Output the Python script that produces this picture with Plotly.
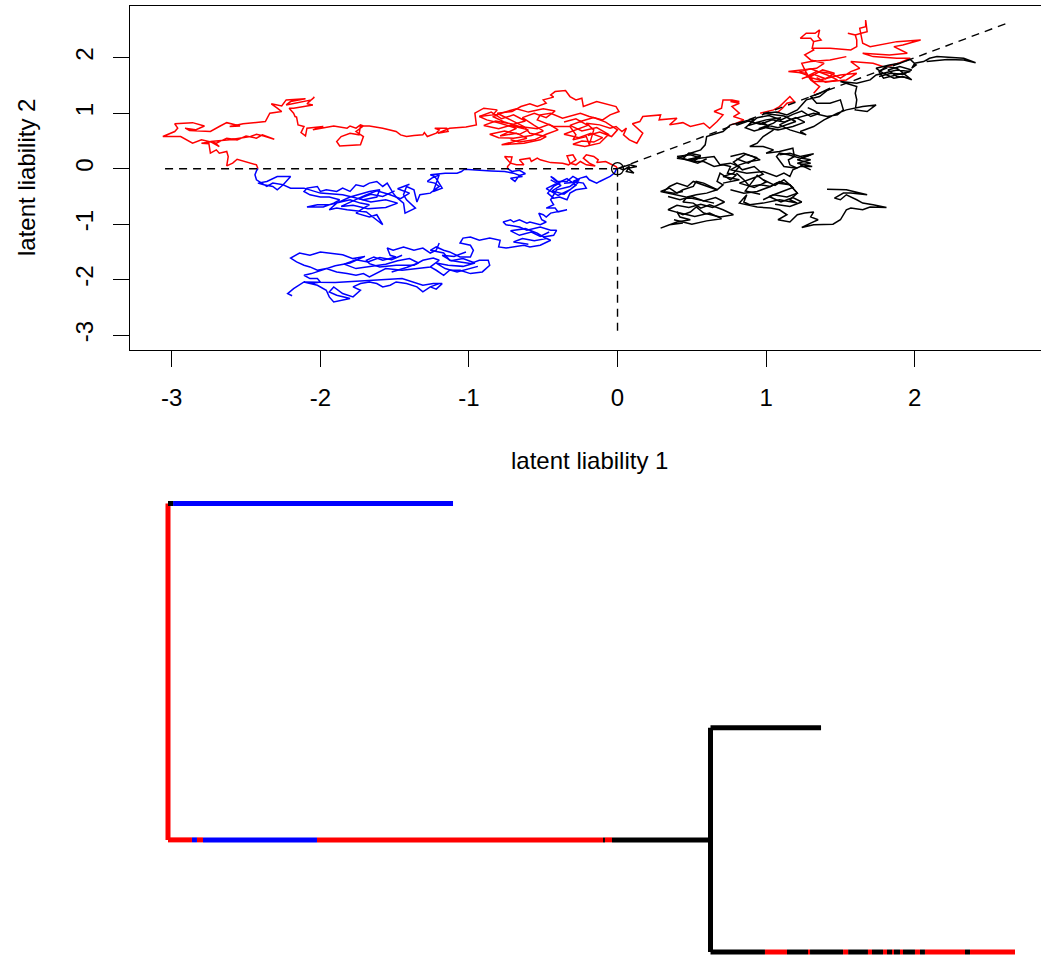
import plotly.graph_objects as go

# ---------------- top panel: liability walks (data units) ----------------
red_path_1 = [(0.00,0.00),(-0.01,0.04),(-0.05,0.09),(-0.08,0.13),(-0.14,0.11),(-0.13,0.16),(-0.16,0.22),(-0.21,0.25),
    (-0.23,0.19),(-0.19,0.10),(-0.15,0.05),(-0.21,0.07),(-0.25,0.13),(-0.28,0.07),(-0.32,0.10),(-0.34,0.23),(-0.30,0.25),
    (-0.28,0.16),(-0.33,0.07),(-0.37,0.10),(-0.45,0.11),(-0.52,0.16),(-0.54,0.19),(-0.58,0.13),(-0.59,0.19),(-0.66,0.16),
    (-0.63,0.07),(-0.68,0.07),(-0.72,0.10),(-0.75,0.19),(-0.76,0.22),(-0.71,0.21),(-0.72,0.10),(-0.74,0.04),(-0.74,0.00)]

red_path_2 = [(-2.42,0.00),(-2.43,0.07),(-2.56,0.17),(-2.59,0.10),(-2.63,0.05),(-2.62,0.22),(-2.63,0.31),(-2.68,0.28),
    (-2.70,0.34),(-2.74,0.28),(-2.75,0.45),(-2.80,0.46),(-2.72,0.49),(-2.68,0.40),(-2.74,0.49),(-2.61,0.52),(-2.47,0.58),
    (-2.43,0.62),(-2.38,0.59),(-2.31,0.53),(-2.39,0.61),(-2.43,0.55),(-2.50,0.59),(-2.56,0.52),(-2.63,0.55),(-2.70,0.46),
    (-2.80,0.52),(-2.86,0.46),(-2.94,0.58),(-3.06,0.58),(-3.01,0.64),(-2.98,0.67),(-2.96,0.73),(-2.98,0.81),(-2.86,0.83),
    (-2.78,0.77),(-2.84,0.70),(-2.91,0.73),(-2.88,0.69),(-2.74,0.67),(-2.68,0.76),(-2.63,0.83),(-2.54,0.77),(-2.61,0.76),
    (-2.52,0.81),(-2.37,0.85),(-2.34,1.00),(-2.26,1.03),(-2.29,1.09),(-2.33,1.17),(-2.26,1.13),(-2.23,1.24),(-2.10,1.26),
    (-2.20,1.21),(-2.23,1.15),(-2.06,1.24),(-2.04,1.29),(-2.07,1.21),(-2.09,1.17),(-2.05,1.15),(-2.09,1.13),(-2.18,1.09),
    (-2.21,1.09),(-2.18,1.00),(-2.17,0.94),(-2.16,0.93),(-2.15,0.79),(-2.11,0.76),(-2.13,0.65),(-2.10,0.59),(-2.09,0.73),
    (-1.98,0.76),(-2.02,0.73),(-2.05,0.70),(-1.91,0.77),(-1.82,0.73),(-1.80,0.77),(-1.76,0.73),(-1.73,0.79),(-1.71,0.77),
    (-1.76,0.67),(-1.71,0.58),(-1.73,0.43),(-1.87,0.41),(-1.89,0.49),(-1.86,0.58),(-1.80,0.64),(-1.74,0.61),(-1.73,0.77),
    (-1.67,0.77),(-1.58,0.73),(-1.49,0.67),(-1.46,0.61),(-1.42,0.58),(-1.37,0.60),(-1.31,0.61),(-1.30,0.65),(-1.28,0.58),
    (-1.22,0.64),(-1.20,0.70),(-1.23,0.73),(-1.15,0.73),(-1.14,0.67),(-1.21,0.64),(-1.13,0.73),(-1.02,0.75),(-0.95,0.79),
    (-0.96,1.00),(-0.90,1.09),(-0.81,1.06),(-0.84,0.97),(-0.93,0.94),(-0.88,0.88),(-0.79,0.82),(-0.68,0.73),(-0.75,0.64),
    (-0.79,0.59),(-0.68,0.64),(-0.61,0.55),(-0.78,0.43),(-0.63,0.46),(-0.52,0.52),(-0.48,0.58),(-0.59,0.64),(-0.63,0.76),
    (-0.72,0.88),(-0.81,1.00),(-0.71,1.03),(-0.65,1.12),(-0.59,1.17),(-0.54,1.12),(-0.48,1.18),(-0.50,1.24),(-0.43,1.29),
    (-0.45,1.33),(-0.42,1.39),(-0.35,1.41),(-0.32,1.30),(-0.28,1.24),(-0.24,1.27),(-0.23,1.12),(-0.14,1.21),(-0.01,1.12),
    (0.01,1.03),(-0.05,0.97),(-0.10,0.88),(-0.19,0.94),(-0.25,1.00),(-0.37,0.91),(-0.45,1.00),(-0.52,0.97),(-0.54,0.88),
    (-0.43,0.76),(-0.32,0.76),(-0.28,0.61),(-0.30,0.52),(-0.21,0.58),(-0.19,0.43),(-0.16,0.70),(-0.21,0.82),(-0.12,0.79),
    (-0.05,0.73),(-0.01,0.76),(0.03,0.67),(0.06,0.73),(0.04,0.61),(0.08,0.52),(0.13,0.46),(0.17,0.64),(0.10,0.81),
    (0.15,0.85),(0.17,0.94),(0.29,0.97),(0.28,0.88),(0.40,0.91),(0.35,0.79),(0.44,0.83),(0.49,0.76),(0.58,0.82),
    (0.62,0.73),(0.67,0.85),(0.71,0.97),(0.65,1.03),(0.70,1.09),(0.71,1.24),(0.77,1.24),(0.82,1.21),(0.76,1.21),
    (0.82,1.18),(0.77,1.12),(0.82,1.00),(0.78,0.94),(0.85,0.88),(0.80,0.82),(0.76,0.79)]

red_path_3 = [(0.96,1.00),(1.05,1.06),(1.09,1.12),(1.16,1.30),(1.19,1.21),(1.14,1.18),(1.11,1.09),(1.07,1.00)]

red_path_4 = [(1.32,1.36),(1.36,1.48),(1.30,1.60),(1.27,1.72),(1.15,1.75),(1.27,1.78),(1.34,1.81),(1.39,1.90),
    (1.30,1.96),(1.26,2.05),(1.32,2.14),(1.31,2.17),(1.32,2.29),(1.37,2.32),(1.35,2.38),(1.36,2.50),(1.33,2.44),
    (1.27,2.44),(1.23,2.35),(1.30,2.35),(1.32,2.29),(1.31,2.17),(1.43,2.17),(1.57,2.14),(1.61,2.20),(1.61,2.32),
    (1.60,2.41),(1.55,2.44),(1.60,2.41),(1.64,2.44),(1.68,2.47),(1.67,2.68),(1.67,2.56),(1.63,2.53),(1.65,2.26),
    (1.70,2.20),(1.88,2.29),(2.04,2.32),(1.92,2.23),(1.86,2.20),(1.90,2.14),(1.95,2.08),(1.83,2.05),(1.65,2.08),
    (1.72,2.02),(1.88,1.99),(1.97,1.99),(1.90,1.91),(1.80,1.83),(1.72,1.90),(1.57,1.93),(1.63,1.81),(1.57,1.75),
    (1.50,1.63),(1.43,1.72),(1.34,1.75),(1.27,1.66),(1.36,1.60),(1.50,1.69),(1.61,1.72),(1.54,1.60),(1.43,1.57),
    (1.32,1.57),(1.28,1.69),(1.26,1.78),(1.24,1.90),(1.30,1.93),(1.43,1.96),(1.54,2.02)]

red_path_5 = [(-0.93,0.94),(-0.85,1.02),(-0.78,0.90),(-0.70,0.97),(-0.62,0.86),(-0.70,0.80),(-0.82,0.86),(-0.90,0.78),
    (-0.80,0.72),(-0.72,0.78),(-0.60,0.70),(-0.66,0.62),(-0.76,0.68),(-0.86,0.62),(-0.80,0.56),(-0.70,0.55),(-0.58,0.60),
    (-0.50,0.68),(-0.56,0.78),(-0.64,0.92),(-0.56,1.00),(-0.48,0.92),(-0.42,1.04),(-0.50,1.08),(-0.60,1.02),(-0.68,1.08),
    (-0.76,1.02),(-0.84,0.94),(-0.76,0.84),(-0.66,0.76),(-0.54,0.72),(-0.46,0.80),(-0.40,0.70),(-0.48,0.62),(-0.56,0.52),
    (-0.66,0.48),(-0.72,0.52)]

red_path_6 = [(-0.36,0.84),(-0.28,0.90),(-0.20,0.78),(-0.28,0.70),(-0.36,0.62),(-0.26,0.56),(-0.18,0.64),(-0.10,0.56),
    (-0.16,0.48),(-0.24,0.50),(-0.30,0.44),(-0.22,0.40),(-0.12,0.46),(-0.06,0.62),(-0.14,0.74),(-0.24,0.68),(-0.32,0.78),
    (-0.24,0.86),(-0.16,0.92),(-0.08,0.84),(0.00,0.70),(-0.04,0.58),(-0.12,0.66),(-0.20,0.60)]

red_path_7 = [(1.24,1.62),(1.32,1.70),(1.40,1.62),(1.46,1.72),(1.38,1.78),(1.30,1.66),(1.22,1.74),(1.30,1.80),
    (1.42,1.68),(1.48,1.60),(1.40,1.56),(1.34,1.64)]

blue_path_1 = [(-0.74,0.00),(-0.71,-0.05),(-0.66,-0.03),(-0.62,-0.09),(-0.66,-0.12),(-0.69,-0.23),(-0.72,-0.17),
    (-0.64,-0.14),(-0.70,-0.08),(-0.76,-0.05),(-0.85,-0.04),(-0.95,-0.03),(-1.03,-0.01),(-1.05,-0.05),(-1.08,-0.08),
    (-1.16,-0.08),(-1.26,-0.11),(-1.23,-0.14),(-1.18,-0.35),(-1.24,-0.41),(-1.20,-0.11),(-1.25,-0.17),(-1.28,-0.23),
    (-1.23,-0.26),(-1.20,-0.32),(-1.26,-0.44),(-1.33,-0.47),(-1.35,-0.60),(-1.37,-0.38),(-1.42,-0.32),(-1.44,-0.47),
    (-1.42,-0.56),(-1.36,-0.71),(-1.43,-0.80),(-1.44,-0.62),(-1.49,-0.51),(-1.51,-0.44),(-1.55,-0.26),(-1.58,-0.32),
    (-1.62,-0.23),(-1.67,-0.26),(-1.71,-0.32),(-1.76,-0.29),(-1.80,-0.41),(-1.85,-0.35),(-1.89,-0.41),(-1.96,-0.38),
    (-2.00,-0.41),(-2.02,-0.32),(-2.09,-0.35),(-2.11,-0.41),(-2.07,-0.47),(-2.00,-0.51),(-1.94,-0.51),(-1.87,-0.56),
    (-1.91,-0.62),(-1.98,-0.69),(-2.09,-0.69),(-2.02,-0.65),(-1.94,-0.65),(-1.85,-0.60),(-1.80,-0.56),(-1.73,-0.62),
    (-1.67,-0.65),(-1.71,-0.71),(-1.76,-0.80),(-1.67,-0.87),(-1.62,-0.83),(-1.58,-1.01),(-1.62,-0.92),(-1.69,-0.78),
    (-1.82,-0.74),(-1.89,-0.71),(-1.94,-0.74),(-1.89,-0.62),(-1.80,-0.51),(-1.71,-0.44),(-1.67,-0.41),(-1.60,-0.38),
    (-1.62,-0.51),(-1.71,-0.56),(-1.85,-0.47),(-2.00,-0.44),(-2.11,-0.35),(-2.20,-0.35),(-2.25,-0.29),(-2.29,-0.38),
    (-2.32,-0.32),(-2.38,-0.29),(-2.42,-0.26),(-2.36,-0.23),(-2.29,-0.14),(-2.20,-0.14),(-2.23,-0.23),(-2.25,-0.29),
    (-2.32,-0.26),(-2.36,-0.32),(-2.43,-0.20),(-2.44,-0.11),(-2.43,-0.04),(-2.42,0.00)]

blue_path_2 = [(0.00,0.00),(-0.01,-0.02),(-0.02,-0.08),(-0.05,-0.14),(-0.12,-0.23),(-0.14,-0.26),(-0.19,-0.20),
    (-0.21,-0.14),(-0.25,-0.17),(-0.30,-0.23),(-0.23,-0.26),(-0.21,-0.35),(-0.28,-0.38),(-0.32,-0.44),(-0.34,-0.56),
    (-0.39,-0.51),(-0.43,-0.53),(-0.47,-0.44),(-0.43,-0.32),(-0.39,-0.26),(-0.43,-0.17),(-0.45,-0.14),(-0.41,-0.23),
    (-0.34,-0.23),(-0.30,-0.14),(-0.26,-0.20),(-0.32,-0.32),(-0.37,-0.35),(-0.41,-0.38),(-0.45,-0.56),(-0.43,-0.65),
    (-0.48,-0.71),(-0.42,-0.71),(-0.40,-0.78),(-0.34,-0.74),(-0.41,-0.78),(-0.45,-0.80),(-0.48,-0.87),(-0.50,-0.83),
    (-0.53,-0.80),(-0.51,-0.92),(-0.48,-0.96),(-0.52,-1.01),(-0.59,-0.96),(-0.61,-0.98),(-0.66,-0.92),(-0.70,-0.96),
    (-0.72,-0.92),(-0.77,-0.96),(-0.75,-1.01),(-0.66,-1.05),(-0.61,-1.11),(-0.52,-1.05),(-0.45,-1.11),(-0.41,-1.11),
    (-0.43,-1.20),(-0.50,-1.23),(-0.45,-1.29),(-0.52,-1.38),(-0.59,-1.41),(-0.63,-1.38),(-0.75,-1.43),(-0.80,-1.41),
    (-0.79,-1.29),(-0.86,-1.25),(-0.93,-1.29),(-0.99,-1.23),(-1.04,-1.25),(-1.06,-1.34),(-0.99,-1.38),(-0.97,-1.47),
    (-0.99,-1.59),(-1.06,-1.59),(-1.13,-1.50),(-1.17,-1.47),(-1.22,-1.41),(-1.26,-1.47),(-1.17,-1.52),(-1.13,-1.65),
    (-1.06,-1.68),(-0.99,-1.71),(-0.93,-1.65),(-0.87,-1.65),(-0.86,-1.74),(-0.91,-1.86),(-0.99,-1.89),(-1.06,-1.83),
    (-1.13,-1.83),(-1.17,-1.92),(-1.22,-1.83),(-1.26,-1.77)]

blue_path_2b = [(-1.20,-1.34),(-1.22,-1.47),(-1.26,-1.52),(-1.31,-1.43),
    (-1.37,-1.47),(-1.44,-1.41),(-1.51,-1.47),(-1.55,-1.43),(-1.53,-1.56),(-1.49,-1.59),(-1.58,-1.65),(-1.64,-1.59),
    (-1.69,-1.65),(-1.67,-1.71),(-1.60,-1.77),(-1.49,-1.74),(-1.37,-1.74),(-1.31,-1.65),(-1.24,-1.61),(-1.20,-1.65),
    (-1.26,-1.77),(-1.35,-1.80),(-1.45,-1.83),(-1.56,-1.80),(-1.67,-1.95),(-1.71,-1.89),(-1.76,-1.92),(-1.82,-1.89),
    (-1.89,-1.86),(-1.96,-1.80),(-2.02,-1.83),(-2.07,-1.77),(-2.11,-1.74),(-2.16,-1.68),(-2.20,-1.61),(-2.14,-1.52),
    (-2.07,-1.56),(-2.00,-1.50),(-1.94,-1.52),(-1.85,-1.55),(-1.78,-1.62),(-1.70,-1.58),(-1.80,-1.70),(-1.90,-1.75),
    (-2.06,-1.89),(-2.11,-1.92),(-2.07,-1.98),(-2.02,-1.98),(-2.00,-2.04),(-2.06,-2.07),(-2.11,-2.04),(-2.02,-2.10),
    (-1.96,-2.19),(-1.94,-2.31),(-1.91,-2.40),(-1.85,-2.37),(-1.80,-2.34),(-1.89,-2.28),(-1.94,-2.22),(-1.91,-2.13),
    (-1.85,-2.25),(-1.78,-2.31),(-1.73,-2.19),(-1.78,-2.13),(-1.73,-2.07),(-1.67,-2.04),(-1.62,-2.07),(-1.58,-2.13),
    (-1.53,-2.10),(-1.49,-2.04),(-1.42,-2.07),(-1.35,-2.13),(-1.31,-2.22),(-1.26,-2.13),(-1.20,-2.07),(-1.26,-2.13),
    (-1.22,-2.17),(-1.18,-2.07),(-1.24,-2.07),(-1.31,-2.10),(-1.45,-1.98),(-1.60,-2.00),(-1.75,-2.03),(-1.90,-2.05),
    (-2.11,-2.04),(-2.18,-2.16),(-2.22,-2.25),(-2.19,-2.29)]

blue_path_3 = [(-0.45,-0.20),(-0.38,-0.30),(-0.44,-0.40),(-0.36,-0.46),(-0.28,-0.30),(-0.34,-0.18),(-0.42,-0.28),
    (-0.48,-0.36),(-0.40,-0.48),(-0.32,-0.38),(-0.26,-0.24),(-0.36,-0.26)]

blue_path_4 = [(-1.50,-0.40),(-1.58,-0.50),(-1.66,-0.46),(-1.74,-0.54),(-1.66,-0.60),(-1.56,-0.56),(-1.48,-0.62),
    (-1.56,-0.70),(-1.68,-0.72),(-1.78,-0.66),(-1.86,-0.68),(-1.78,-0.58),(-1.70,-0.48),(-1.62,-0.40),(-1.54,-0.46),
    (-1.46,-0.54),(-1.40,-0.44),(-1.48,-0.36),(-1.40,-0.28)]

blue_path_5 = [(-0.46,-1.14),(-0.52,-1.22),(-0.58,-1.14),(-0.66,-1.20),(-0.72,-1.12),(-0.62,-1.08),(-0.54,-1.16),
    (-0.48,-1.26),(-0.56,-1.30),(-0.64,-1.26),(-0.70,-1.32),(-0.60,-1.36)]

blue_path_6 = [(-1.02,-1.50),(-1.10,-1.58),(-1.18,-1.56),(-1.12,-1.66),(-1.04,-1.62),(-0.96,-1.70),(-1.04,-1.76),
    (-1.14,-1.74),(-1.22,-1.70),(-1.16,-1.80),(-1.08,-1.86),(-1.00,-1.80),(-0.94,-1.76)]

blue_path_7 = [(-1.45,-1.56),(-1.52,-1.64),(-1.60,-1.60),(-1.68,-1.68),(-1.76,-1.64),(-1.84,-1.72),(-1.76,-1.80),
    (-1.66,-1.76),(-1.56,-1.72),(-1.48,-1.66),(-1.40,-1.62),(-1.34,-1.70),(-1.42,-1.78),(-1.52,-1.86)]

black_path_1 = [(0.01,0.01),(0.04,-0.02),(0.08,0.04),(0.06,-0.05),(0.11,-0.08),(0.07,0.01),(0.13,0.04),(0.08,0.07),(0.02,0.02)]

black_path_2 = [(0.76,0.79),(0.71,0.67),(0.67,0.64),(0.60,0.58),(0.59,0.43),(0.56,0.34),(0.49,0.28),(0.44,0.22),
    (0.40,0.19),(0.47,0.16),(0.56,0.22),(0.51,0.13),(0.58,0.13),(0.65,0.04),(0.71,0.07),(0.76,0.04),(0.74,-0.08),
    (0.80,-0.11),(0.76,-0.20),(0.69,-0.08),(0.67,-0.23),(0.71,-0.29),(0.67,-0.38),(0.58,-0.29),(0.51,-0.23),
    (0.47,-0.32),(0.40,-0.26),(0.35,-0.32),(0.31,-0.41),(0.38,-0.44),(0.44,-0.41)]

black_path_2b = [(0.40,0.22),(0.49,0.25),(0.56,0.19),(0.47,0.16),(0.65,0.22),(0.69,0.07),(0.76,0.10),(0.82,0.04),
    (0.78,-0.08),(0.71,-0.14),(0.82,-0.20),(0.71,-0.26)]

black_path_2c = [(0.65,-0.62),(0.29,-0.41),(0.35,-0.35),(0.40,-0.44),(0.44,-0.38),(0.51,-0.32),(0.53,-0.23),
    (0.58,-0.26),(0.67,-0.38),(0.60,-0.44),(0.53,-0.47),(0.47,-0.51),(0.44,-0.60),(0.51,-0.62),(0.56,-0.71),
    (0.62,-0.65),(0.71,-0.74),(0.78,-0.83),(0.69,-0.87),(0.58,-0.80),(0.53,-0.69),(0.49,-0.78),(0.44,-0.83),
    (0.40,-0.78),(0.42,-0.87),(0.49,-0.92),(0.40,-0.96),(0.29,-1.07),(0.35,-1.01),(0.44,-0.98)]

black_path_2d = [(0.76,-0.38),(0.85,-0.44),(0.94,-0.41),(1.03,-0.32),(1.07,-0.26),(1.16,-0.29),(1.21,-0.44),(1.16,-0.56),
    (1.21,-0.62),(1.09,-0.56),(0.98,-0.62),(0.89,-0.65),(0.85,-0.60),(0.87,-0.47),(0.82,-0.62),(0.94,-0.69),
    (1.03,-0.71),(1.09,-0.74),(1.14,-0.83),(1.08,-0.92),(1.16,-0.96),(1.21,-0.83),(1.26,-0.80),(1.32,-0.78),
    (1.30,-0.87),(1.35,-0.92),(1.30,-0.98),(1.24,-1.06),(1.32,-1.01),(1.45,-1.00),(1.50,-0.92),(1.54,-0.74),
    (1.57,-0.71),(1.65,-0.74),(1.70,-0.69),(1.81,-0.70),(1.72,-0.65),(1.65,-0.62),(1.61,-0.56),(1.54,-0.47),
    (1.50,-0.56),(1.46,-0.53),(1.52,-0.44),(1.57,-0.44),(1.68,-0.47),(1.54,-0.38),(1.41,-0.37)]

black_path_3 = [(0.76,0.22),(0.85,0.28),(0.91,0.22),(0.96,0.16),(0.89,0.13),(0.82,0.07),(0.76,-0.02),(0.87,-0.08),
    (0.98,-0.05),(1.07,-0.14),(1.12,-0.08),(1.16,-0.14),(1.18,-0.02),(1.23,0.04),(1.31,0.04),(1.21,0.10),(1.30,0.16),
    (1.24,0.19),(1.32,0.27),(1.23,0.22),(1.16,0.28),(1.09,0.25)]

black_path_3b = [(1.05,0.70),(0.98,0.58),(0.94,0.46),(0.89,0.40),
    (0.98,0.40),(1.05,0.34),(1.00,0.28),(1.09,0.31),(1.18,0.37),(1.19,0.22),(1.15,0.16),(1.16,0.07),(1.21,0.01),
    (1.12,0.04),(1.07,0.22),(1.09,0.28),(1.15,0.25),(1.23,0.19),(1.30,0.25),(1.21,0.16),(1.30,0.10),(1.23,0.07),
    (1.30,-0.02)]

black_path_3c = [(0.80,-0.08),(0.85,-0.20),(0.89,-0.32),(0.96,-0.29),(1.03,-0.32),(1.09,-0.23),(1.16,-0.29),
    (1.21,-0.44),(1.14,-0.51),(1.05,-0.47),(0.98,-0.56)]

black_path_4 = [(0.76,0.79),(0.85,0.85),(0.92,0.90),(0.88,0.78),(0.97,0.85),(1.02,0.76),(0.95,0.72),(1.05,0.82),
    (1.10,0.92),(1.00,0.88),(0.93,0.83),(1.08,0.74),(1.15,0.80),(1.20,0.85),(1.12,0.95),(0.98,1.00),(1.07,1.02),
    (1.14,0.97),(1.21,1.06),(1.27,1.24),(1.36,1.30),(1.43,1.45),(1.36,1.36),(1.30,1.30),(1.34,1.18),(1.43,1.18),
    (1.50,1.24),(1.52,1.06),(1.48,0.97),(1.41,0.94),(1.32,1.00),(1.23,0.94),(1.16,0.88),(1.09,0.79),(1.16,0.70),
    (1.27,0.61),(1.23,0.67),(1.32,0.76),(1.39,0.88),(1.48,1.00),(1.54,1.06),(1.65,1.12),(1.74,1.15),(1.68,1.03),
    (1.60,1.06),(1.61,1.24),(1.60,1.36),(1.61,1.48),(1.54,1.54),(1.50,1.57),(1.61,1.54),(1.70,1.60),(1.74,1.69),
    (1.83,1.75),(1.88,1.78),(1.97,1.75),(1.88,1.69),(1.79,1.63),(1.76,1.75),(1.81,1.84),(1.88,1.81),(1.98,1.60),
    (1.92,1.66),(1.86,1.63),(1.79,1.72),(1.74,1.81),(1.83,1.87),(1.90,1.90),(1.97,1.97),(2.01,1.87),(1.98,1.81),
    (2.00,1.90),(2.06,1.93),(2.10,1.99),(2.15,2.02),(2.22,2.01),(2.33,1.99),(2.41,1.91),(2.33,1.96),(2.22,1.97),
    (2.13,1.94),(2.08,1.93)]

black_path_5 = [(0.80,0.78),(0.88,0.86),(0.96,0.80),(1.04,0.88),(1.12,0.84),(1.20,0.92),(1.26,0.84),(1.18,0.76),
    (1.08,0.70),(1.00,0.74),(0.92,0.68),(0.86,0.74),(0.94,0.92),(1.02,0.96),(1.10,0.88),(1.18,0.98),(1.24,1.04),
    (1.30,0.94),(1.36,1.00),(1.28,1.10)]

black_path_6 = [(0.80,0.18),(0.88,0.10),(0.94,0.20),(0.86,0.26),(0.78,0.12),(0.84,-0.02),(0.92,0.04),(0.98,-0.10),
    (0.90,-0.18),(0.82,-0.26),(0.92,-0.34),(1.00,-0.24),(0.94,-0.12),(0.86,-0.40),(0.96,-0.46)]

black_path_7 = [(1.76,1.66),(1.84,1.72),(1.92,1.70),(1.98,1.78),(1.90,1.84),(1.82,1.78),(1.88,1.66),(1.96,1.64)]

black_path_8 = [(0.42,0.20),(0.50,0.14),(0.56,0.24),(0.48,0.28),(0.44,0.18),(0.54,0.10),(0.60,0.18)]

black_path_9 = [(0.34,-0.50),(0.42,-0.56),(0.50,-0.50),(0.58,-0.58),(0.66,-0.52),(0.72,-0.60),(0.64,-0.70),
    (0.56,-0.64),(0.48,-0.70),(0.40,-0.66),(0.34,-0.74),(0.42,-0.80),(0.52,-0.86),(0.62,-0.80),(0.70,-0.90),
    (0.60,-0.94),(0.50,-1.00),(0.38,-0.92)]

black_path_10 = [(0.98,-0.20),(1.06,-0.30),(1.12,-0.20),(1.18,-0.34),(1.10,-0.42),(1.02,-0.50),(1.10,-0.60),
    (1.18,-0.52),(1.24,-0.60),(1.16,-0.68),(1.06,-0.64)]

# threshold (dashed) lines
threshold_h = [(-3.045, 0.0), (0.0, 0.0)]
threshold_v = [(0.0, 0.0), (0.0, -2.94)]
threshold_d = [(0.0, 0.0), (2.64, 2.64)]
origin_point = (0.0, 0.0)

x_ticks = [-3, -2, -1, 0, 1, 2]
y_ticks = [-3, -2, -1, 0, 1, 2]
x_tick_text = ["-3", "-2", "-1", "0", "1", "2"]
y_tick_text = ["-3", "-2", "-1", "0", "1", "2"]

# ---------------- bottom panel: mapped tree (time units) ----------------
tip_A_y, tip_B_y, tip_C_y, node_y = 3, 2, 1, 1.5
node_t = 0.6405
# (start time, end time, state) along each edge
edge_root_A = [(0.0, 0.006, "black"), (0.006, 0.3365, "blue")]
edge_root_node = [(0.0, 0.0283, "red"), (0.0283, 0.0342, "blue"), (0.0342, 0.0413, "red"), (0.0413, 0.1759, "blue"),
                  (0.1759, 0.5136, "red"), (0.5136, 0.5159, "black"), (0.5159, 0.5242, "red"), (0.5242, 0.6405, "black")]
edge_node_B = [(0.6405, 0.771, "black")]
edge_node_C = [(0.6405, 0.7048, "black"), (0.7048, 0.7308, "red"), (0.7308, 0.7556, "black"), (0.7556, 0.7580, "red"),
               (0.7580, 0.7970, "black"), (0.7970, 0.8030, "red"), (0.8030, 0.8264, "black"), (0.8264, 0.8312, "red"),
               (0.8312, 0.8442, "black"), (0.8442, 0.8489, "red"), (0.8489, 0.8548, "black"), (0.8548, 0.8571, "red"),
               (0.8571, 0.8642, "black"), (0.8642, 0.8678, "red"), (0.8678, 0.8819, "black"), (0.8819, 0.8878, "red"),
               (0.8878, 0.8937, "black"), (0.8937, 0.9410, "red"), (0.9410, 0.9469, "black"), (0.9469, 1.0, "red")]

COLORS = {"red": "#FF0000", "blue": "#0000FF", "black": "#000000"}
FONT = "Liberation Sans, Arial, Helvetica, sans-serif"

def join(paths):
    xs, ys = [], []
    for p in paths:
        xs += [pt[0] for pt in p] + [None]
        ys += [pt[1] for pt in p] + [None]
    return xs, ys

fig = go.Figure()

walks = [
    ("red", [red_path_1, red_path_2, red_path_3, red_path_4, red_path_5, red_path_6, red_path_7]),
    ("blue", [blue_path_1, blue_path_2, blue_path_2b, blue_path_3, blue_path_4, blue_path_5, blue_path_6, blue_path_7]),
    ("black", [black_path_1, black_path_2, black_path_2b, black_path_2c, black_path_2d, black_path_3, black_path_3b,
               black_path_3c, black_path_4, black_path_5, black_path_6, black_path_7, black_path_8, black_path_9,
               black_path_10]),
]
for name, paths in walks:
    xs, ys = join(paths)
    fig.add_trace(go.Scatter(x=xs, y=ys, mode="lines", line=dict(color=COLORS[name], width=1.5),
                             xaxis="x", yaxis="y", hoverinfo="skip"))

for seg in [threshold_h, threshold_v, threshold_d]:
    fig.add_trace(go.Scatter(x=[p[0] for p in seg], y=[p[1] for p in seg], mode="lines",
                             line=dict(color="black", width=1.4, dash="8px,6px"), xaxis="x", yaxis="y"))

fig.add_trace(go.Scatter(x=[origin_point[0]], y=[origin_point[1]], mode="markers",
                         marker=dict(symbol="circle-open", size=12, color="black", line=dict(width=1.3)),
                         xaxis="x", yaxis="y"))

# tree
tree = {"red": ([], []), "blue": ([], []), "black": ([], [])}
for edge, yv in [(edge_root_A, tip_A_y), (edge_root_node, node_y), (edge_node_B, tip_B_y), (edge_node_C, tip_C_y)]:
    for t0, t1, st in edge:
        tree[st][0].extend([t0, t1, None])
        tree[st][1].extend([yv, yv, None])
tree["red"][0].extend([0.0, 0.0, None]); tree["red"][1].extend([node_y, tip_A_y, None])
tree["black"][0].extend([node_t, node_t, None]); tree["black"][1].extend([tip_C_y, tip_B_y, None])
for st in ["red", "blue", "black"]:
    fig.add_trace(go.Scatter(x=tree[st][0], y=tree[st][1], mode="lines",
                             line=dict(color=COLORS[st], width=5), xaxis="x2", yaxis="y2", hoverinfo="skip"))

axis_common = dict(ticks="outside", ticklen=16, tickwidth=1.3, tickcolor="black", showline=True,
                   linecolor="black", linewidth=1.3, showgrid=False, zeroline=False,
                   tickfont=dict(family=FONT, size=24, color="black"))

fig.update_layout(
    width=1041, height=956, margin=dict(l=0, r=0, t=0, b=0),
    paper_bgcolor="white", plot_bgcolor="white", showlegend=False,
    xaxis=dict(domain=[130/1041, 1.0], range=[-3.281, 2.85], tickvals=x_ticks, ticktext=x_tick_text, mirror=True,
               anchor="y", ticklabelstandoff=10, **axis_common),
    yaxis=dict(domain=[(956-350)/956, (956-6)/956], range=[-3.267, 2.932], tickvals=y_ticks, ticktext=y_tick_text,
               mirror=False, tickangle=-90, anchor="x", ticklabelstandoff=10, **axis_common),
    xaxis2=dict(domain=[0, 1], range=[-0.19835, 1.0307], visible=False, anchor="y2"),
    yaxis2=dict(domain=[0, 0.5], range=[0.9822, 3.1137], visible=False, anchor="x2"),
    annotations=[
        dict(text="latent liability 1", x=589/1041, y=(956-460)/956, xref="paper", yref="paper",
             showarrow=False, xanchor="center", yanchor="middle", font=dict(family=FONT, size=24, color="black")),
        dict(text="latent liability 2", x=26/1041, y=(956-178)/956, xref="paper", yref="paper", textangle=-90,
             showarrow=False, xanchor="center", yanchor="middle", font=dict(family=FONT, size=24, color="black")),
    ],
)

fig.write_html("out.html")
